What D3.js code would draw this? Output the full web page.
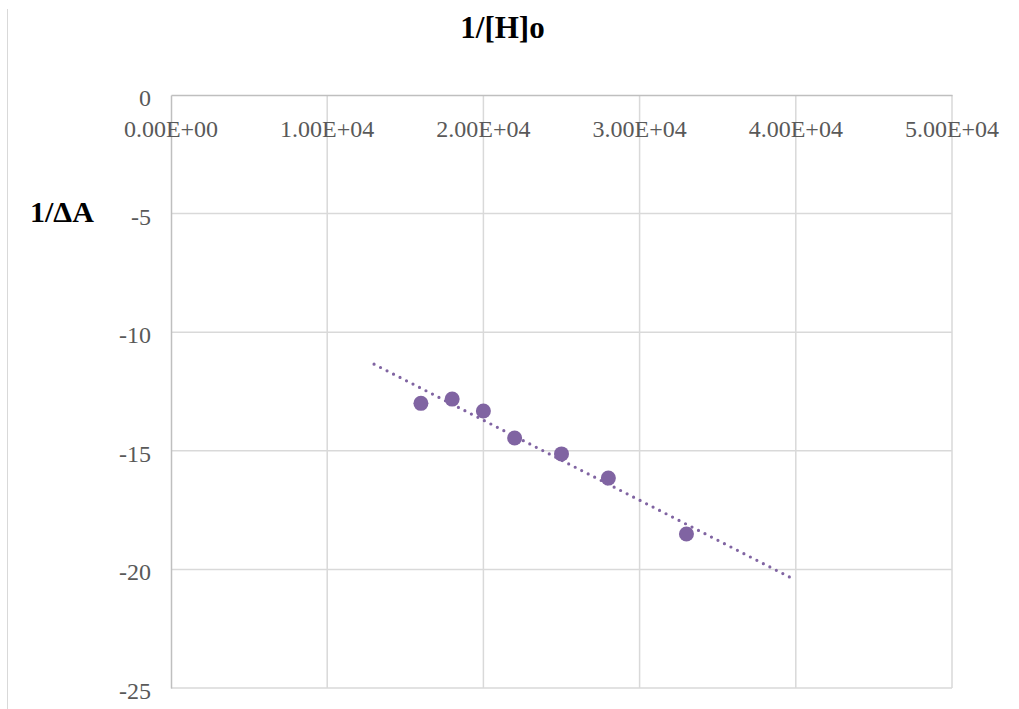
<!DOCTYPE html>
<html><head><meta charset="utf-8">
<script src="https://cdn.jsdelivr.net/npm/d3@7"></script>
<style>body{margin:0;background:#fff}svg{display:block}</style>
</head><body>
<svg id="c" width="1019" height="709"></svg>
<script>
const xValues = [16000, 18000, 20000, 22000, 25000, 28000, 33000];
const yValues = [-13.0, -12.82, -13.32, -14.46, -15.13, -16.15, -18.51];
const xTicks = [0, 10000, 20000, 30000, 40000, 50000];
const yTicks = [0, -5, -10, -15, -20, -25];
const trendRange = [13000, 40000];
const title = "1/[H]o";
const yTitle = "1/\u0394A";

const svg = d3.select("#c");
const L = 171, R = 952, T = 95, B = 688;
const x = d3.scaleLinear().domain([0, 50000]).range([L, R]);
const y = d3.scaleLinear().domain([0, -25]).range([T, B]);
const font = "'Liberation Serif','Times New Roman',serif";

// outer left border
svg.append("line").attr("x1", 7.5).attr("x2", 7.5).attr("y1", 9).attr("y2", 709)
  .attr("stroke", "#d9d9d9").attr("stroke-width", 1);

// gridlines
svg.append("g").selectAll("line").data(xTicks.slice(1)).join("line")
  .attr("x1", d => x(d)).attr("x2", d => x(d)).attr("y1", T).attr("y2", B)
  .attr("stroke", "#d9d9d9").attr("stroke-width", 1.5);
svg.append("g").selectAll("line").data(yTicks.slice(1)).join("line")
  .attr("x1", L).attr("x2", R).attr("y1", d => y(d)).attr("y2", d => y(d))
  .attr("stroke", "#d9d9d9").attr("stroke-width", 1.5);

// axes lines
const xAxis = d3.axisTop(x).tickValues(xTicks).tickSize(0).tickFormat(() => "");
svg.append("g").attr("transform", `translate(0,${T})`).call(xAxis)
  .call(g => g.select(".domain").attr("stroke", "#bfbfbf").attr("stroke-width", 1.5));
const yAxis = d3.axisLeft(y).tickValues(yTicks).tickSize(0).tickFormat(() => "");
svg.append("g").attr("transform", `translate(${L},0)`).call(yAxis)
  .call(g => g.select(".domain").attr("stroke", "#bfbfbf").attr("stroke-width", 1.5));

// tick labels
svg.append("g").selectAll("text").data(xTicks).join("text")
  .attr("x", d => x(d)).attr("y", 137).attr("text-anchor", "middle")
  .attr("font-family", font).attr("font-size", 24).attr("fill", "#595959")
  .text(d => d.toExponential(2).toUpperCase().replace(/E([+-])(\d)$/, "E$10$2"));
svg.append("g").selectAll("text").data(yTicks).join("text")
  .attr("x", 151).attr("y", d => y(d) + 11).attr("text-anchor", "end")
  .attr("font-family", font).attr("font-size", 24).attr("fill", "#595959")
  .text(d => d);

// titles
svg.append("text").attr("x", 502.5).attr("y", 37.5).attr("text-anchor", "middle")
  .attr("font-family", font).attr("font-size", 31).attr("font-weight", "bold")
  .attr("fill", "#000").text(title);
svg.append("text").attr("x", 30).attr("y", 222)
  .attr("font-family", font).attr("font-size", 30).attr("font-weight", "bold")
  .attr("fill", "#000").text(yTitle);

// regression trendline
const n = xValues.length;
const mx = d3.mean(xValues), my = d3.mean(yValues);
let sxy = 0, sxx = 0;
for (let i = 0; i < n; i++) { sxy += (xValues[i]-mx)*(yValues[i]-my); sxx += (xValues[i]-mx)**2; }
const slope = sxy / sxx, icpt = my - slope * mx;
const trend = trendRange.map(v => [v, icpt + slope * v]);
const tp = svg.append("path").datum(trend)
  .attr("d", d3.line().x(d => x(d[0])).y(d => y(d[1])))
  .attr("fill", "none").attr("stroke", "#8064a2").attr("stroke-width", 3.2)
  .attr("stroke-linecap", "round");
const len = tp.node().getTotalLength();
const gap = len / Math.round(len / 7.3);
tp.attr("stroke-dasharray", `0 ${gap}`);

// points
svg.append("g").selectAll("circle").data(xValues.map((v, i) => [v, yValues[i]])).join("circle")
  .attr("cx", d => x(d[0])).attr("cy", d => y(d[1])).attr("r", 7.5)
  .attr("fill", "#8064a2");
</script>
</body></html>
